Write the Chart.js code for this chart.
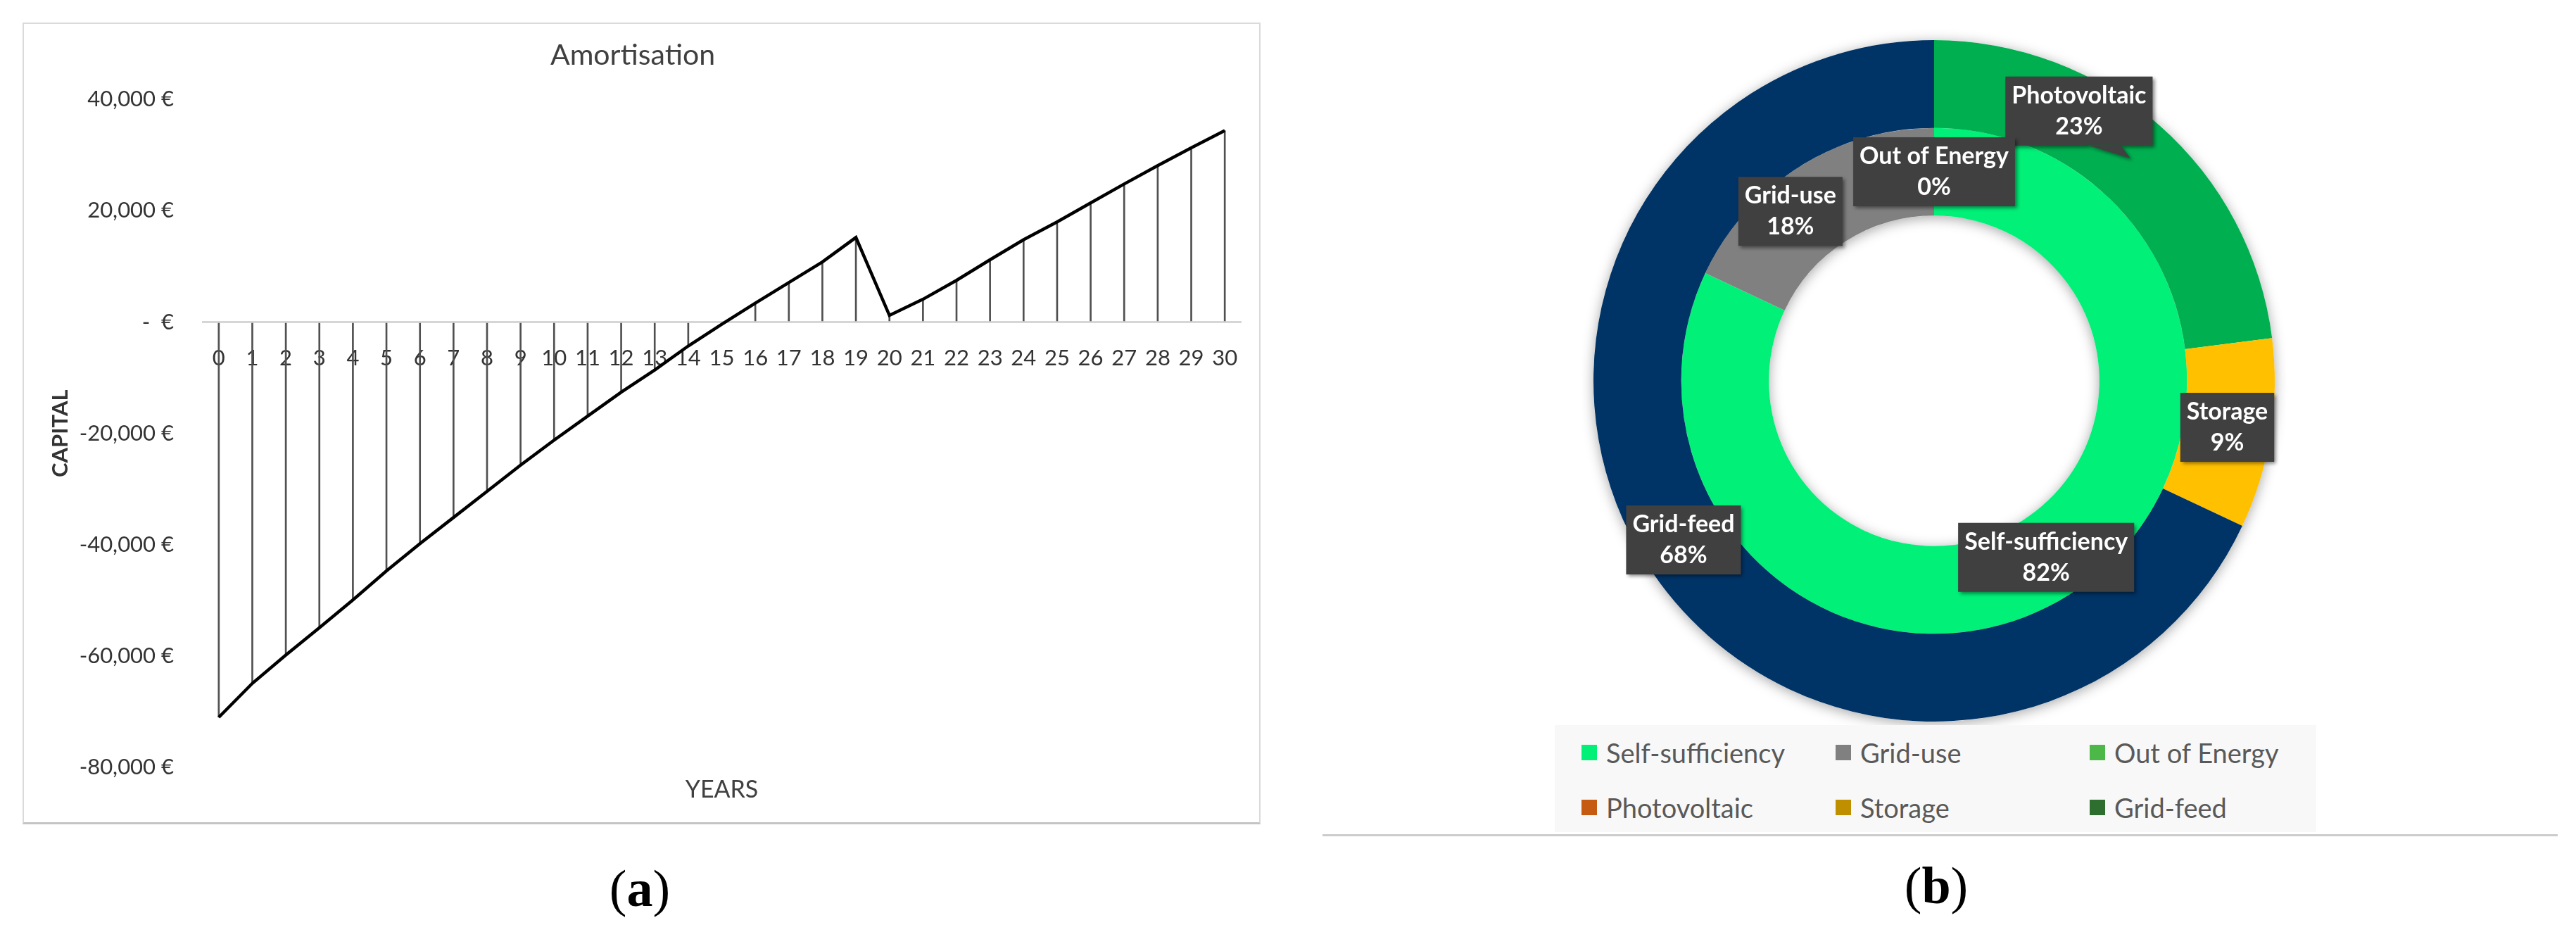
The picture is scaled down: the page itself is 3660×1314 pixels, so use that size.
<!DOCTYPE html>
<html>
<head>
<meta charset="utf-8">
<title>Amortisation and energy shares</title>
<script src="https://cdn.jsdelivr.net/npm/chart.js@4.4.1/dist/chart.umd.min.js"></script>
<style>
  body { margin: 0; background: #fff; }
  #page { position: relative; width: 3660px; height: 1314px; overflow: hidden; font-family: Lato, sans-serif; }
  #boxA { position: absolute; left: 32px; top: 32px; width: 1755px; height: 1134px; border: 2px solid #dadada; border-bottom: 3px solid #c4c4c4; }
  #amort { position: absolute; left: 34px; top: 34px; }
  #donut { position: absolute; left: 2248px; top: 41px; }
  #legendB { position: absolute; left: 2209px; top: 1030px; width: 1082px; height: 152px; background: #f8f8f8;
    box-sizing: border-box; padding-left: 38px; display: grid; grid-template-columns: 361px 361px 320px; grid-template-rows: 78px 78px; }
  .item { display: flex; align-items: center; font-size: 38px; color: #595959; white-space: nowrap; }
  .mk { display: inline-block; width: 22px; height: 22px; margin-right: 13px; }
  #ruleB { position: absolute; left: 1879px; top: 1185px; width: 1755px; height: 3px; background: #cccccc; }
  .cap { position: absolute; transform: translate(-50%, -50%); font-family: "Liberation Serif", serif; font-size: 74px; color: #000; }
</style>
</head>
<body>
<div id="page">
  <div id="boxA"></div>
  <canvas id="amort" width="1755" height="1135"></canvas>
  <canvas id="donut" width="1000" height="1000"></canvas>
  <div id="legendB"></div>
  <div id="ruleB"></div>
  <div class="cap" style="left:909px;top:1262px">(<b>a</b>)</div>
  <div class="cap" style="left:2751px;top:1258px">(<b>b</b>)</div>
</div>
<script>
// (a) amortisation over 30 years
const years = ['0', '1', '2', '3', '4', '5', '6', '7', '8', '9', '10', '11', '12', '13', '14', '15',
  '16', '17', '18', '19', '20', '21', '22', '23', '24', '25', '26', '27', '28', '29', '30'];
const capital = [-71000, -64900, -59800, -54900, -49900, -44700, -39800, -35100, -30400, -25700, -21200,
  -16900, -12600, -8600, -4300, -400, 3400, 7100, 10800, 15200, 1200, 4100, 7500, 11200, 14800,
  18000, 21400, 24800, 28100, 31300, 34400];
const capitalTicks = [-80000, -60000, -40000, -20000, 0, 20000, 40000];

// (b) energy shares, outer ring then inner ring
const energyLabels = ['Photovoltaic', 'Storage', 'Grid-feed'];
const energyShare = [23, 9, 68];
const useLabels = ['Self-sufficiency', 'Grid-use', 'Out of Energy'];
const useShare = [82, 18, 0];
const legendLabels = ['Self-sufficiency', 'Grid-use', 'Out of Energy', 'Photovoltaic', 'Storage', 'Grid-feed'];

const energyColors = ['#00b050', '#ffc000', '#003366'];
const useColors = ['#00f078', '#808080', '#4cb848'];
const legendColors = ['#00f078', '#808080', '#4cb848', '#c55a11', '#bf8f00', '#2e6e2e'];

const euro = (v) => (v === 0 ? '-  €' : v.toLocaleString('en-US') + ' €');

new Chart(document.getElementById('amort'), {
  type: 'bar',
  data: {
    labels: years,
    datasets: [
      { type: 'line', data: capital, borderColor: '#000', borderWidth: 4.5, pointRadius: 0, tension: 0, fill: false },
      { type: 'bar', data: capital, backgroundColor: '#505050', barThickness: 2 }
    ]
  },
  options: {
    responsive: false,
    animation: false,
    devicePixelRatio: 1,
    layout: { padding: { left: 0, right: 25, top: 0, bottom: 0 } },
    plugins: {
      legend: { display: false },
      tooltip: { enabled: false },
      title: {
        display: true, text: 'Amortisation', color: '#404040',
        font: { family: 'Lato', size: 41, weight: 'normal' }, padding: { top: 20, bottom: 38 }
      },
      subtitle: {
        display: true, text: 'YEARS', position: 'bottom', fullSize: false, color: '#404040',
        font: { family: 'Lato', size: 34 }, padding: { top: 11, bottom: 27 }
      }
    },
    scales: {
      x: {
        position: { y: 0 },
        grid: { display: false },
        border: { display: false },
        ticks: { color: '#333333', font: { family: 'Lato', size: 31 }, padding: 25, autoSkip: false, maxRotation: 0 }
      },
      y: {
        min: -80000,
        max: 40000,
        afterBuildTicks: (s) => { s.ticks = capitalTicks.map((v) => ({ value: v })); },
        afterFit: (s) => { s.width = 253; },
        grid: {
          color: (c) => (c.tick && c.tick.value === 0 ? '#d6d6d6' : 'rgba(0,0,0,0)'),
          lineWidth: 3,
          drawTicks: false
        },
        border: { display: false },
        ticks: { color: '#333333', font: { family: 'Lato', size: 31 }, padding: 40, callback: euro },
        title: {
          display: true, text: 'CAPITAL', color: '#333333',
          font: { family: 'Lato', size: 31, weight: 'bold' }, padding: { top: 33, bottom: 0 }
        }
      }
    }
  }
});

// soft shadow under each ring, painted before the slices cover it
const ringShadow = {
  id: 'ringShadow',
  beforeDatasetsDraw(chart) {
    const ctx = chart.ctx;
    ctx.save();
    ctx.shadowColor = 'rgba(0,0,0,0.35)';
    ctx.shadowBlur = 18;
    ctx.shadowOffsetY = 3;
    ctx.fillStyle = '#ffffff';
    chart.data.datasets.forEach((ds, i) => {
      const arc = chart.getDatasetMeta(i).data[0];
      ctx.beginPath();
      ctx.arc(arc.x, arc.y, arc.outerRadius, 0, Math.PI * 2);
      ctx.arc(arc.x, arc.y, arc.innerRadius, 0, Math.PI * 2, true);
      ctx.fill();
    });
    ctx.restore();
  }
};

// dark callout boxes "name / xx%" on each slice
const calloutLabels = {
  id: 'calloutLabels',
  afterDatasetsDraw(chart, args, opts) {
    const ctx = chart.ctx;
    ctx.save();
    ctx.font = opts.font;
    ctx.textAlign = 'center';
    ctx.textBaseline = 'middle';
    chart.data.datasets.forEach((ds, i) => {
      chart.getDatasetMeta(i).data.forEach((arc, j) => {
        const p = arc.tooltipPosition(true);
        const nudge = (opts.nudge[i] && opts.nudge[i][j]) || null;
        const cx = p.x + (nudge ? nudge[0] : 0);
        const cy = p.y + (nudge ? nudge[1] : 0);
        const lines = [opts.names[i][j], ds.data[j] + '%'];
        const w = Math.max(...lines.map((t) => ctx.measureText(t).width)) + 18;
        const h = 98;
        const bx = cx - w / 2;
        const by = cy - h / 2;

        ctx.save();
        ctx.shadowColor = 'rgba(0,0,0,0.45)';
        ctx.shadowBlur = 5;
        ctx.shadowOffsetX = 3;
        ctx.shadowOffsetY = 3;
        ctx.fillStyle = '#404040';
        ctx.beginPath();
        ctx.rect(bx, by, w, h);
        if (nudge) {
          ctx.moveTo(bx + w * 0.55, by + h - 1);
          ctx.lineTo(p.x, p.y);
          ctx.lineTo(bx + w * 0.78, by + h - 1);
          ctx.closePath();
        }
        ctx.fill();
        ctx.restore();

        ctx.fillStyle = '#ffffff';
        ctx.fillText(lines[0], cx, cy - 22);
        ctx.fillText(lines[1], cx, cy + 22);
      });
    });
    ctx.restore();
  }
};

new Chart(document.getElementById('donut'), {
  type: 'doughnut',
  data: {
    labels: useLabels,
    datasets: [
      { data: energyShare, backgroundColor: energyColors, borderWidth: 0 },
      { data: useShare, backgroundColor: useColors, borderWidth: 0 }
    ]
  },
  options: {
    responsive: false,
    animation: false,
    devicePixelRatio: 1,
    cutout: '48.5%',
    layout: { padding: 16 },
    plugins: {
      legend: { display: false },
      tooltip: { enabled: false },
      calloutLabels: {
        font: 'bold 34px Lato',
        names: [energyLabels, useLabels],
        nudge: { 0: { 0: [-73, -67] }, 1: { 1: [-45, 10] } }
      }
    }
  },
  plugins: [ringShadow, calloutLabels]
});

const legendBox = document.getElementById('legendB');
legendLabels.forEach((name, i) => {
  const item = document.createElement('div');
  item.className = 'item';
  const mk = document.createElement('span');
  mk.className = 'mk';
  mk.style.background = legendColors[i];
  item.appendChild(mk);
  item.appendChild(document.createTextNode(name));
  legendBox.appendChild(item);
});
</script>
</body>
</html>
